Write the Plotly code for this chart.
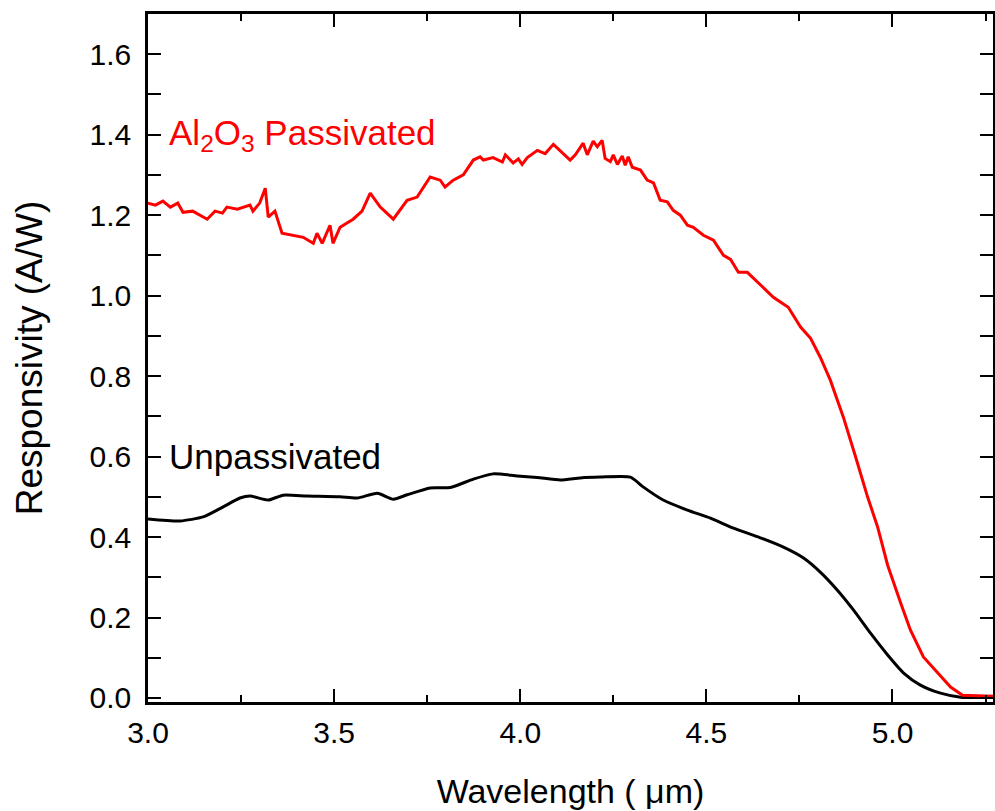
import plotly.graph_objects as go

# Al2O3 passivated device
wl_pass = [3.0, 3.02, 3.04, 3.06, 3.08, 3.094, 3.12, 3.14, 3.159, 3.18, 3.20, 3.212, 3.24, 3.274, 3.282,
           3.30, 3.315, 3.323, 3.341, 3.360, 3.39, 3.417, 3.444, 3.454, 3.468, 3.489, 3.497, 3.516, 3.551,
           3.575, 3.597, 3.624, 3.659, 3.696, 3.723, 3.758, 3.785, 3.798, 3.820, 3.847, 3.874, 3.892, 3.901,
           3.927, 3.952, 3.960, 3.981, 3.995, 4.005, 4.019, 4.046, 4.067, 4.089, 4.113, 4.134, 4.148, 4.169,
           4.180, 4.196, 4.207, 4.220, 4.228, 4.242, 4.250, 4.261, 4.274, 4.282, 4.290, 4.301, 4.323, 4.341,
           4.358, 4.376, 4.395, 4.411, 4.430, 4.449, 4.465, 4.492, 4.519, 4.546, 4.565, 4.586, 4.610, 4.645,
           4.680, 4.720, 4.753, 4.780, 4.806, 4.833, 4.868, 4.901, 4.933, 4.960, 4.987, 5.022, 5.048, 5.083,
           5.121, 5.156, 5.188, 5.277]
resp_pass = [1.23, 1.225, 1.235, 1.22, 1.23, 1.207, 1.21, 1.20, 1.19, 1.21, 1.205, 1.22, 1.215, 1.225, 1.21,
             1.23, 1.267, 1.195, 1.21, 1.155, 1.15, 1.145, 1.13, 1.155, 1.13, 1.175, 1.13, 1.17, 1.19,
             1.21, 1.255, 1.22, 1.19, 1.237, 1.245, 1.295, 1.287, 1.27, 1.287, 1.30, 1.337, 1.345, 1.337,
             1.343, 1.332, 1.35, 1.33, 1.34, 1.326, 1.343, 1.361, 1.353, 1.376, 1.355, 1.337, 1.35, 1.379,
             1.35, 1.384, 1.37, 1.386, 1.341, 1.333, 1.35, 1.326, 1.347, 1.324, 1.345, 1.319, 1.312, 1.287,
             1.28, 1.237, 1.233, 1.212, 1.20, 1.175, 1.17, 1.15, 1.138, 1.10, 1.09, 1.058, 1.058, 1.026,
             0.996, 0.971, 0.922, 0.894, 0.847, 0.79, 0.698, 0.599, 0.50, 0.425, 0.33, 0.236, 0.169, 0.102,
             0.062, 0.027, 0.007, 0.004]

# Unpassivated device
wl_unpass = [3.0, 3.086, 3.148, 3.202, 3.247, 3.274, 3.323, 3.363, 3.427, 3.516, 3.562, 3.616, 3.659,
             3.696, 3.758, 3.812, 3.874, 3.927, 3.992, 4.046, 4.108, 4.161, 4.215, 4.296, 4.331, 4.384,
             4.449, 4.511, 4.573, 4.645, 4.707, 4.761, 4.806, 4.852, 4.895, 4.941, 4.987, 5.030, 5.075,
             5.129, 5.183, 5.277]
resp_unpass = [0.445, 0.44, 0.45, 0.475, 0.497, 0.502, 0.492, 0.504, 0.502, 0.50, 0.497, 0.509, 0.494,
               0.505, 0.522, 0.523, 0.544, 0.557, 0.552, 0.548, 0.542, 0.547, 0.549, 0.549, 0.524, 0.492,
               0.467, 0.447, 0.422, 0.398, 0.375, 0.348, 0.313, 0.268, 0.219, 0.161, 0.107, 0.062, 0.032,
               0.012, 0.002, 0.002]

x_ticks = [3.0, 3.5, 4.0, 4.5, 5.0]
x_tick_labels = ["3.0", "3.5", "4.0", "4.5", "5.0"]
y_ticks = [0.0, 0.2, 0.4, 0.6, 0.8, 1.0, 1.2, 1.4, 1.6]
y_tick_labels = ["0.0", "0.2", "0.4", "0.6", "0.8", "1.0", "1.2", "1.4", "1.6"]

FONT = "Liberation Sans, Arial, sans-serif"

fig = go.Figure()
fig.add_trace(go.Scatter(x=wl_unpass, y=resp_unpass, mode="lines",
                         line=dict(color="black", width=3, shape="spline", smoothing=0.6),
                         showlegend=False))
fig.add_trace(go.Scatter(x=wl_pass, y=resp_pass, mode="lines",
                         line=dict(color="#ff0000", width=3),
                         showlegend=False))

fig.add_annotation(x=3.052, y=1.40, xref="x", yref="y", xanchor="left", yanchor="middle",
                   text="Al<sub>2</sub>O<sub>3</sub> Passivated", showarrow=False,
                   font=dict(family=FONT, size=35, color="#ff0000"))
fig.add_annotation(x=3.052, y=0.60, xref="x", yref="y", xanchor="left", yanchor="middle",
                   text="Unpassivated", showarrow=False,
                   font=dict(family=FONT, size=35, color="black"))

fig.update_layout(
    width=995, height=811,
    margin=dict(l=148, r=2, t=14, b=109),
    paper_bgcolor="white", plot_bgcolor="white",
    font=dict(family=FONT, color="black"),
)
fig.update_xaxes(
    range=[3.0, 5.27], tickvals=x_ticks, ticktext=x_tick_labels,
    ticks="inside", ticklen=13, tickwidth=2, tickcolor="black",
    minor=dict(dtick=0.25, tick0=3.0, ticks="inside", ticklen=7, tickwidth=2, tickcolor="black"),
    showline=True, linewidth=2.5, linecolor="black", mirror="allticks",
    showgrid=False, zeroline=False,
    tickfont=dict(size=30, family=FONT), ticklabelstandoff=2,
    title=dict(text="Wavelength ( μm)", font=dict(size=34, family=FONT), standoff=32),
    automargin=False,
)
fig.update_yaxes(
    range=[-0.01, 1.7], tickvals=y_ticks, ticktext=y_tick_labels,
    ticks="inside", ticklen=13, tickwidth=2, tickcolor="black",
    minor=dict(dtick=0.1, tick0=0.0, ticks="inside", ticklen=13, tickwidth=2, tickcolor="black"),
    showline=True, linewidth=2.5, linecolor="black", mirror="allticks",
    showgrid=False, zeroline=False,
    tickfont=dict(size=30, family=FONT), ticklabelstandoff=8,
    title=dict(text="Responsivity (A/W)", font=dict(size=37, family=FONT), standoff=36),
    automargin=False,
)

fig.write_html("out.html", config={"displayModeBar": False},
               post_script="document.body.style.margin='0';")
